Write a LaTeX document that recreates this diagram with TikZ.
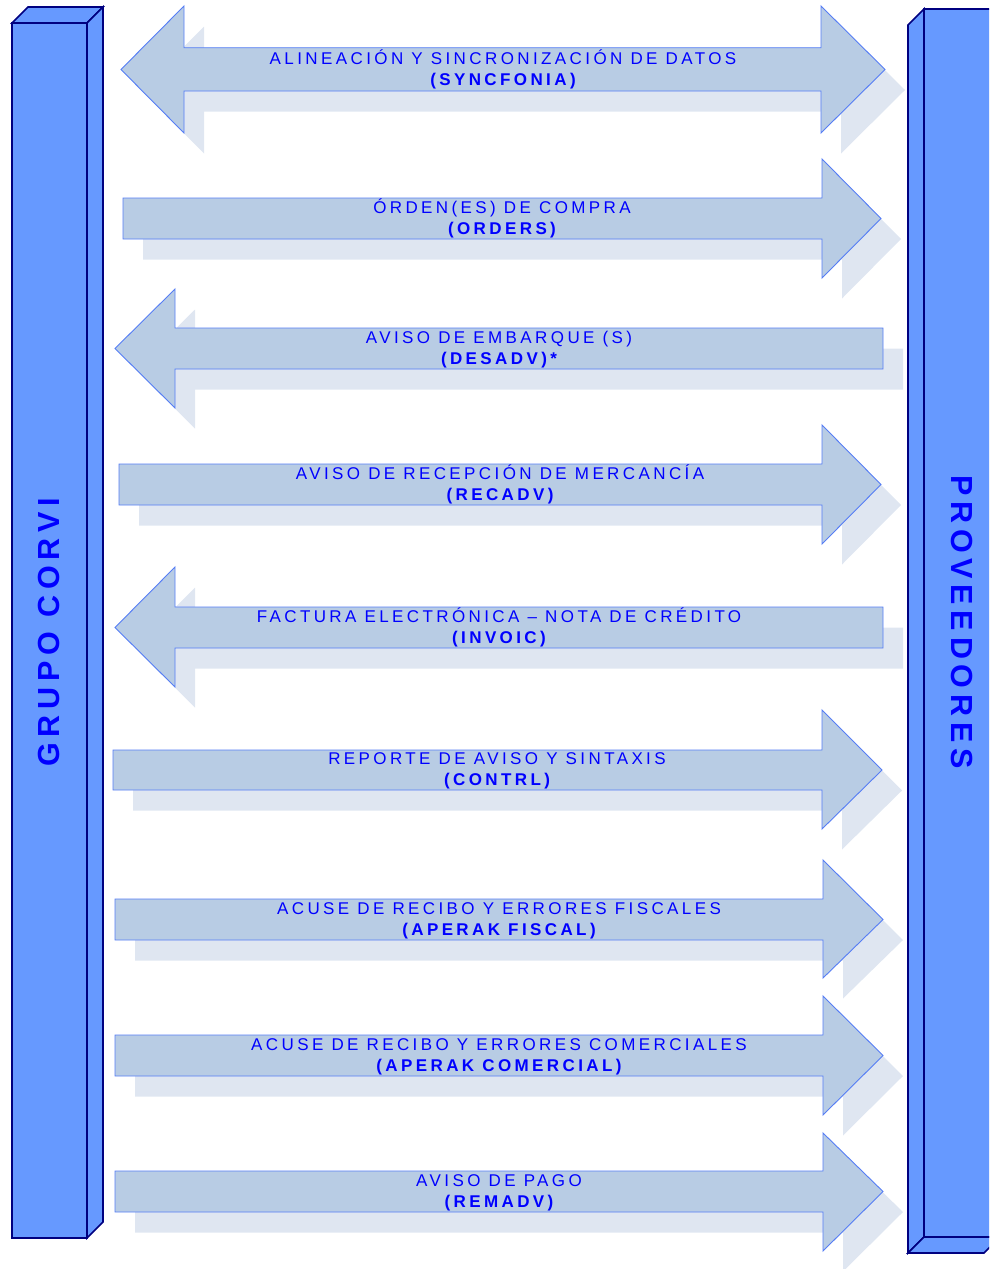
\documentclass[tikz,border=0pt]{standalone}
\usepackage{fontspec}
\setmainfont{Liberation Sans}
\newfontfamily\lblfont[LetterSpace=20]{Liberation Sans}
\newfontfamily\pilfont[LetterSpace=19]{Liberation Sans}
\definecolor{pill}{RGB}{102,153,255}
\definecolor{pilledge}{RGB}{0,0,128}
\definecolor{arrfill}{RGB}{184,204,228}
\definecolor{arredge}{RGB}{85,125,245}
\definecolor{shd}{RGB}{223,230,241}
\definecolor{txt}{RGB}{0,0,255}
\tikzset{
 arr/.style={fill=arrfill, draw=arredge, line width=0.9pt, line join=miter},
 shdw/.style={fill=shd},
 pil/.style={fill=pill, draw=pilledge, line width=1.6pt, line join=miter},
 l1/.style={anchor=base, inner sep=0pt, text=txt, font=\lblfont\fontsize{17}{19}\selectfont},
 l2/.style={anchor=base, inner sep=0pt, text=txt, font=\lblfont\bfseries\fontsize{17}{19}\selectfont},
 plab/.style={inner sep=0pt, text=txt, font=\pilfont\bfseries\fontsize{30.5}{32}\selectfont},
}
% right arrow: xl, st, sb, xh, ht, hb, xt, yt
\newcommand\RArr[8]{%
 \fill[shdw,shift={(20,20.5)}] (#1,#2) -- (#4,#2) -- (#4,#5) -- (#7,#8) -- (#4,#6) -- (#4,#3) -- (#1,#3) -- cycle;
 \draw[arr] (#1,#2) -- (#4,#2) -- (#4,#5) -- (#7,#8) -- (#4,#6) -- (#4,#3) -- (#1,#3) -- cycle;}
% left arrow: xt, yt, xh, ht, hb, st, sb, xr
\newcommand\LArr[8]{%
 \fill[shdw,shift={(20,20.5)}] (#1,#2) -- (#3,#4) -- (#3,#6) -- (#8,#6) -- (#8,#7) -- (#3,#7) -- (#3,#5) -- cycle;
 \draw[arr] (#1,#2) -- (#3,#4) -- (#3,#6) -- (#8,#6) -- (#8,#7) -- (#3,#7) -- (#3,#5) -- cycle;}
\begin{document}
\begin{tikzpicture}[x=1pt,y=-1pt]
\useasboundingbox (0,0) rectangle (989,1269);
\clip (0,0) rectangle (989,1269);
% arrow 1 (double)
\fill[shdw,shift={(20,20.5)}] (121,69.5) -- (184,6) -- (184,47.7) -- (821,47.7) -- (821,6) -- (885,69.5) -- (821,133) -- (821,91) -- (184,91) -- (184,133) -- cycle;
\draw[arr] (121,69.5) -- (184,6) -- (184,47.7) -- (821,47.7) -- (821,6) -- (885,69.5) -- (821,133) -- (821,91) -- (184,91) -- (184,133) -- cycle;
% arrow 2
\RArr{123}{198}{239}{822}{159}{278}{881}{218.5}
% arrow 3
\LArr{115}{348.5}{175}{289}{408}{328}{369}{883}
% arrow 4
\RArr{119}{464}{505}{822}{425}{544}{881}{484.5}
% arrow 5
\LArr{115}{627.5}{175}{567}{687}{607}{648}{883}
% arrow 6
\RArr{113}{750}{790}{822}{710}{829}{882}{770}
% arrow 7
\RArr{115}{899}{940}{823}{860}{978}{883}{919.5}
% arrow 8
\RArr{115}{1035}{1076}{823}{996}{1115}{883}{1055.5}
% arrow 9
\RArr{115}{1171}{1212}{823}{1133}{1251}{883}{1191.5}
% labels
\node[l1] (t1a) at (503,64) {ALINEACIÓN Y SINCRONIZACIÓN DE DATOS};
\node[l2] (t1b) at (503,85) {(SYNCFONIA)};
\node[l1] (t2a) at (502,213) {ÓRDEN(ES) DE COMPRA};
\node[l2] (t2b) at (502,234) {(ORDERS)};
\node[l1] (t3a) at (499,343) {AVISO DE EMBARQUE (S)};
\node[l2] (t3b) at (499,364) {(DESADV)*};
\node[l1] (t4a) at (500,479) {AVISO DE RECEPCIÓN DE MERCANCÍA};
\node[l2] (t4b) at (500,500) {(RECADV)};
\node[l1] (t5a) at (499,622) {FACTURA ELECTRÓNICA – NOTA DE CRÉDITO};
\node[l2] (t5b) at (499,643) {(INVOIC)};
\node[l1] (t6a) at (497,764.5) {REPORTE DE AVISO Y SINTAXIS};
\node[l2] (t6b) at (497,785.5) {(CONTRL)};
\node[l1] (t7a) at (499,914) {ACUSE DE RECIBO Y ERRORES FISCALES};
\node[l2] (t7b) at (499,935) {(APERAK FISCAL)};
\node[l1] (t8a) at (499,1050) {ACUSE DE RECIBO Y ERRORES COMERCIALES};
\node[l2] (t8b) at (499,1071) {(APERAK COMERCIAL)};
\node[l1] (t9a) at (499,1186) {AVISO DE PAGO};
\node[l2] (t9b) at (499,1207) {(REMADV)};
% left pillar
\draw[pil] (12,23) rectangle (87,1238);
\draw[pil] (12,23) -- (28,7) -- (103,7) -- (87,23) -- cycle;
\draw[pil] (87,23) -- (103,7) -- (103,1222) -- (87,1238) -- cycle;
\node[plab, rotate=90] (grupo) at (49,632.5) {GRUPO CORVI};
% right pillar
\draw[pil] (924,9) rectangle (1000,1237);
\draw[pil] (908,25) -- (924,9) -- (924,1237) -- (908,1253) -- cycle;
\draw[pil] (908,1253) -- (924,1237) -- (1000,1237) -- (984,1253) -- cycle;
\node[plab, rotate=-90] (prov) at (962,622) {PROVEEDORES};
\end{tikzpicture}
\end{document}
